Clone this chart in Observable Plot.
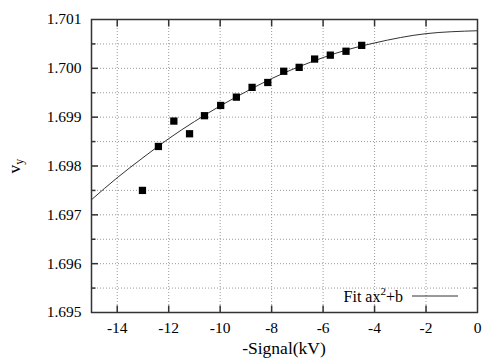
<!DOCTYPE html>
<html>
<head>
<meta charset="utf-8">
<script src="https://cdn.jsdelivr.net/npm/d3@7"></script>
<script src="https://cdn.jsdelivr.net/npm/@observablehq/plot@0.6"></script>
<style>
  html, body { margin: 0; padding: 0; background: white; }
</style>
</head>
<body>
<div id="chart"></div>
<script>
// Measured points
const signal = [-13.02, -12.40, -11.80, -11.19, -10.61, -9.98, -9.37, -8.76, -8.15, -7.53, -6.93, -6.33, -5.72, -5.11, -4.50];
const vyValues = [1.69750, 1.69840, 1.69892, 1.69866, 1.69903, 1.69924, 1.69941, 1.69961, 1.69971, 1.69994, 1.70002, 1.70019, 1.70027, 1.70035, 1.70047];

// Fit curve (ax^2+b)
const fitSignal = [-15, -14, -13, -12, -11, -10, -9, -8, -7, -6, -5, -4, -3, -2, -1, 0];
const fitVy = [1.69731, 1.69776, 1.69817, 1.69856, 1.69891, 1.69923, 1.69952, 1.69979, 1.70002, 1.70022, 1.70039, 1.70052, 1.70063, 1.70071, 1.70075, 1.70077];

// Ticks
const xTickLabels = [-14, -12, -10, -8, -6, -4, -2, 0];
const xInnerTicks = [-14, -12, -10, -8, -6, -4, -2];
const yTickLabels = [1.695, 1.696, 1.697, 1.698, 1.699, 1.700, 1.701];
const yInnerTicks = [1.696, 1.697, 1.698, 1.699, 1.700];
const yMinorTicks = [1.6955, 1.6965, 1.6975, 1.6985, 1.6995, 1.7005];
const yGrid = [1.6955, 1.696, 1.6965, 1.697, 1.6975, 1.698, 1.6985, 1.699, 1.6995, 1.700, 1.7005];

const points = signal.map((x, i) => ({x, y: vyValues[i]}));
const fit = fitSignal.map((x, i) => ({x, y: fitVy[i]}));

const FONT = "Liberation Serif";
const gridStyle = {stroke: "#9a9a9a", strokeOpacity: 1, strokeWidth: 1, strokeDasharray: "1,2"};
const tickColor = "#333";

const chart = Plot.plot({
  width: 504,
  height: 360,
  marginLeft: 91,
  marginRight: 27,
  marginTop: 19,
  marginBottom: 48,
  style: {fontSize: "15.5px", color: "#000", background: "white", overflow: "visible"},
  x: {domain: [-15, 0]},
  y: {domain: [1.695, 1.701]},
  marks: [
    Plot.gridX(xInnerTicks, gridStyle),
    Plot.gridY(yGrid, gridStyle),
    Plot.line(fit, {x: "x", y: "y", curve: "natural", stroke: "#333", strokeWidth: 1}),
    Plot.dot(points, {x: "x", y: "y", symbol: "square", r: 4.1, fill: "black", stroke: "none"}),
    // inward major ticks
    Plot.axisY(yInnerTicks, {anchor: "left", tickSize: 7, dx: 7, tickFormat: () => "", label: null, stroke: tickColor, strokeWidth: 1.5}),
    Plot.axisY(yInnerTicks, {anchor: "right", tickSize: 7, dx: -7, tickFormat: () => "", label: null, stroke: tickColor, strokeWidth: 1.5}),
    Plot.axisY(yMinorTicks, {anchor: "left", tickSize: 4.5, dx: 4.5, tickFormat: () => "", label: null, stroke: tickColor, strokeWidth: 1.5}),
    Plot.axisY(yMinorTicks, {anchor: "right", tickSize: 4.5, dx: -4.5, tickFormat: () => "", label: null, stroke: tickColor, strokeWidth: 1.5}),
    Plot.axisX(xInnerTicks, {anchor: "bottom", tickSize: 6.5, dy: -6.5, tickFormat: () => "", label: null, stroke: tickColor, strokeWidth: 1.5}),
    Plot.axisX(xInnerTicks, {anchor: "top", tickSize: 6.5, dy: 6.5, tickFormat: () => "", label: null, stroke: tickColor, strokeWidth: 1.5}),
    // labels
    Plot.axisY(yTickLabels, {anchor: "left", tickSize: 0, tickPadding: 10, tickFormat: d3.format(".3f"), label: null, fill: "#000"}),
    Plot.axisX(xTickLabels, {anchor: "bottom", tickSize: 0, tickPadding: 9, tickFormat: d => String(d), label: null, fill: "#000"}),
    Plot.frame({stroke: "#333", strokeWidth: 1.5})
  ]
});

const svg = d3.select(chart);

// X axis label
svg.append("text")
  .attr("x", 284).attr("y", 354)
  .attr("text-anchor", "middle")
  .attr("font-size", 17.5)
  .attr("fill", "#000")
  .text("-Signal(kV)");

// Y axis label v_y
const yl = svg.append("text")
  .attr("transform", "translate(20,166) rotate(-90)")
  .attr("text-anchor", "middle")
  .attr("font-size", 17.5)
  .attr("fill", "#000");
yl.append("tspan").text("v");
yl.append("tspan").attr("font-size", 12).attr("dy", 3).text("y");

// Legend
const lg = svg.append("g");
const lt = lg.append("text")
  .attr("x", 403).attr("y", 302)
  .attr("text-anchor", "end")
  .attr("font-size", 16)
  .attr("fill", "#000");
lt.append("tspan").text("Fit ax");
lt.append("tspan").attr("font-size", 11).attr("dy", -7).text("2");
lt.append("tspan").attr("dy", 7).text("+b");
lg.append("line")
  .attr("x1", 412).attr("x2", 458).attr("y1", 296).attr("y2", 296)
  .attr("stroke", "#333").attr("stroke-width", 1);

chart.style.setProperty("font-family", FONT, "important");
svg.selectAll("g, text, tspan").each(function() {
  this.setAttribute("font-family", FONT);
  this.style.setProperty("font-family", FONT, "important");
});

document.getElementById("chart").appendChild(chart);
</script>
</body>
</html>
